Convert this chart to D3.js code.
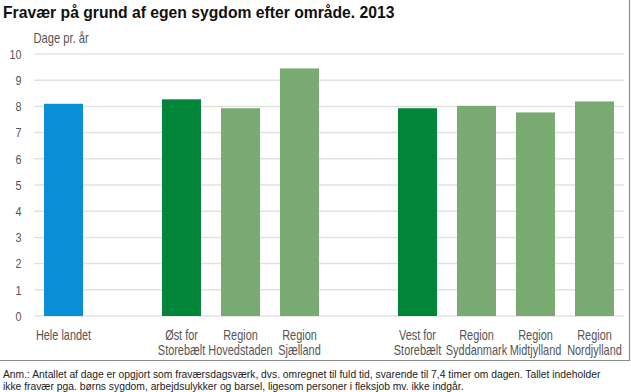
<!DOCTYPE html>
<html><head><meta charset="utf-8">
<script src="https://cdn.jsdelivr.net/npm/d3@7"></script>
<style>
body{margin:0;background:#fff;}
svg{display:block;}
</style></head><body>
<div id="chart"></div>
<script>
const categories = ["Hele landet","_b1","Øst for\nStorebælt","Region\nHovedstaden","Region\nSjælland","_b2","Vest for\nStorebælt","Region\nSyddanmark","Region\nMidtjylland","Region\nNordjylland"];
const values = [8.1,null,8.27,7.93,9.45,null,7.93,8.02,7.77,8.19];
const kinds = ["total",null,"part","region","region",null,"part","region","region","region"];
const yTicks = [0,1,2,3,4,5,6,7,8,9,10];
const title = "Fravær på grund af egen sygdom efter område. 2013";
const yLabel = "Dage pr. år";
const note = ["Anm.: Antallet af dage er opgjort som fraværsdagsværk, dvs. omregnet til fuld tid, svarende til 7,4 timer om dagen. Tallet indeholder",
"ikke fravær pga. børns sygdom, arbejdsulykker og barsel, ligesom personer i fleksjob mv. ikke indgår."];

const W=631,H=392;
const colors={total:"#0a8ed5",part:"#008539",region:"#78aa72"};
const svg=d3.select("#chart").append("svg").attr("width",W).attr("height",H);
const font="'Liberation Sans',Arial,sans-serif";
const SX=0.77;

const x=d3.scaleBand().domain(categories).range([34,624]).paddingInner(0.339).paddingOuter(0.17);
const y=d3.scaleLinear().domain([0,10]).range([316,54]);

svg.append("text").attr("x",3).attr("y",18).attr("font-family",font)
 .attr("font-weight","bold").attr("font-size",15.7).attr("fill","#111").text(title);

// gridlines
svg.append("g").selectAll("line").data(yTicks).join("line")
 .attr("x1",34).attr("x2",624).attr("y1",d=>y(d)).attr("y2",d=>y(d))
 .attr("stroke","#e2e2dc").attr("stroke-width",1.5);

// y tick labels (condensed)
svg.append("g").selectAll("text").data(yTicks).join("text")
 .attr("transform",d=>`translate(21.5,${y(d)+4.8}) scale(0.8,1)`)
 .attr("text-anchor","end").attr("font-family",font).attr("font-size",13.5).attr("fill","#555")
 .text(d=>d3.format("d")(d));

svg.append("text").attr("transform","translate(33.5,43) scale(0.8,1)").attr("font-family",font).attr("font-size",14)
 .attr("fill","#555").text(yLabel);

const data=categories.map((c,i)=>({c,v:values[i],k:kinds[i]})).filter(d=>d.v!=null);
svg.append("g").selectAll("rect").data(data).join("rect")
 .attr("x",d=>x(d.c)).attr("width",x.bandwidth())
 .attr("y",d=>y(d.v)).attr("height",d=>y(0)-y(d.v))
 .attr("fill",d=>colors[d.k]);

// category labels
const lab=svg.append("g").selectAll("text").data(categories.filter(c=>!c.startsWith("_"))).join("text")
 .attr("font-family",font).attr("font-size",14.2).attr("fill","#555").attr("text-anchor","middle")
 .attr("transform",d=>`translate(${x(d)+x.bandwidth()/2},339.5) scale(${SX},1)`);
lab.each(function(d){
  const parts=d.split("\n");
  const t=d3.select(this);
  parts.forEach((p,i)=>t.append("tspan").attr("x",0).attr("y",i*16).text(p));
});

// frame
svg.append("line").attr("x1",0).attr("x2",630).attr("y1",360.5).attr("y2",360.5).attr("stroke","#8c8c8c").attr("stroke-width",1.2);
svg.append("line").attr("x1",629.5).attr("x2",629.5).attr("y1",0).attr("y2",361).attr("stroke","#8c8c8c").attr("stroke-width",1.2);

svg.append("g").selectAll("text").data(note).join("text")
 .attr("x",3).attr("y",(d,i)=>378+i*12).attr("font-family",font)
 .attr("font-size",10.3).attr("fill","#222").text(d=>d);
</script>
</body></html>
